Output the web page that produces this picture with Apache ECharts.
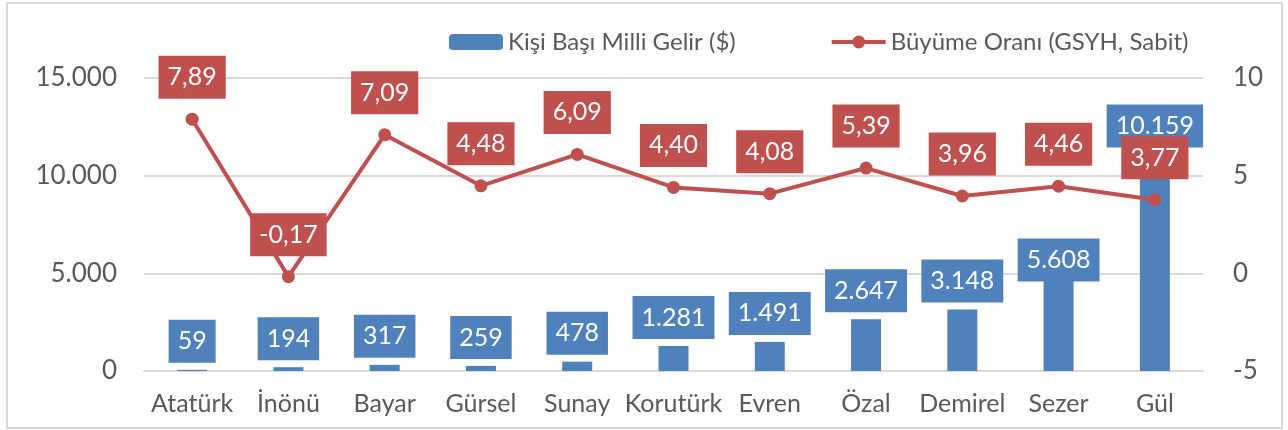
<!DOCTYPE html>
<html>
<head>
<meta charset="utf-8">
<script src="https://cdn.jsdelivr.net/npm/echarts@6/dist/echarts.min.js"></script>
<style>
  html, body { margin: 0; padding: 0; background: #fff; }
  #chart { width: 1288px; height: 430px; }
</style>
</head>
<body>
<div id="chart"></div>
<script>
  // veriler
  var kategoriler = ['Atatürk', 'İnönü', 'Bayar', 'Gürsel', 'Sunay', 'Korutürk', 'Evren', 'Özal', 'Demirel', 'Sezer', 'Gül'];
  var gelir = [59, 194, 317, 259, 478, 1281, 1491, 2647, 3148, 5608, 10159];
  var buyume = [7.89, -0.17, 7.09, 4.48, 6.09, 4.40, 4.08, 5.39, 3.96, 4.46, 3.77];
  var solEksen = [0, 5000, 10000, 15000];
  var sagEksen = [-5, 0, 5, 10];

  var mavi = '#4f81bd';
  var kirmizi = '#c0504d';
  var yazi = '#595959';
  var font = 'Lato';

  function binlik(v) {
    return String(v).replace(/\B(?=(\d{3})+(?!\d))/g, '.');
  }
  function ondalik(v) {
    return v.toFixed(2).replace('.', ',');
  }

  var myChart = echarts.init(document.getElementById('chart'));

  // Excel'de elle kaydırılmış etiketler
  var barData = gelir.map(function (v, i) {
    if (i === 9) return { value: v, label: { offset: [0, 27] } };
    if (i === 10) return { value: v, label: { offset: [0, -18] } };
    return v;
  });

  var option = {
    animation: false,
    textStyle: { fontFamily: font },
    title: {
      text: 'Büyüme',
      left: 49,
      top: 15,
      padding: 0,
      textStyle: {
        color: '#fff',
        fontSize: 26,
        fontWeight: 'normal',
        fontFamily: font,
        backgroundColor: mavi,
        padding: [8, 10],
        lineHeight: 28
      }
    },
    graphic: [{
      type: 'rect',
      silent: true,
      shape: { x: 7, y: 3, width: 1275, height: 425 },
      style: { fill: 'none', stroke: '#d9d9d9', lineWidth: 2 }
    }],
    legend: {
      left: 449,
      top: 30,
      padding: 0,
      itemWidth: 54,
      itemHeight: 16,
      itemGap: 94,
      textStyle: { color: yazi, fontSize: 24, fontFamily: font },
      data: [
        { name: 'Kişi Başı Milli Gelir ($)' },
        { name: 'Büyüme Oranı (GSYH, Sabit)', lineStyle: { width: 4, color: kirmizi } }
      ]
    },
    grid: { left: 144, right: 85, top: 78, bottom: 59 },
    xAxis: {
      type: 'category',
      data: kategoriler,
      axisTick: { show: false },
      axisLine: { lineStyle: { color: '#d9d9d9', width: 2 } },
      axisLabel: { color: yazi, fontSize: 25, margin: 20, interval: 0 }
    },
    yAxis: [{
      type: 'value',
      min: solEksen[0],
      max: solEksen[solEksen.length - 1],
      interval: solEksen[1] - solEksen[0],
      axisLabel: { color: yazi, fontSize: 26, margin: 27, formatter: binlik },
      splitLine: { lineStyle: { color: '#d9d9d9', width: 2 } }
    }, {
      type: 'value',
      min: sagEksen[0],
      max: sagEksen[sagEksen.length - 1],
      interval: sagEksen[1] - sagEksen[0],
      axisLabel: { color: yazi, fontSize: 26, margin: 30 },
      splitLine: { show: false }
    }],
    series: [{
      name: 'Kişi Başı Milli Gelir ($)',
      type: 'bar',
      yAxisIndex: 0,
      barWidth: 30,
      data: barData,
      itemStyle: { color: mavi },
      z: 2,
      label: {
        show: true,
        position: 'top',
        distance: 7,
        color: '#fff',
        fontSize: 25,
        lineHeight: 27,
        backgroundColor: mavi,
        padding: [8, 9],
        formatter: function (p) { return binlik(p.value); }
      }
    }, {
      name: 'Büyüme Oranı (GSYH, Sabit)',
      type: 'line',
      yAxisIndex: 1,
      data: buyume,
      z: 5,
      symbol: 'circle',
      symbolSize: 13,
      itemStyle: { color: kirmizi },
      lineStyle: { color: kirmizi, width: 4 },
      label: {
        show: true,
        position: 'top',
        distance: 14,
        color: '#fff',
        fontSize: 25,
        lineHeight: 27,
        backgroundColor: kirmizi,
        padding: [8, 9],
        formatter: function (p) { return ondalik(p.value); }
      }
    }]
  };
  myChart.setOption(option);
</script>
</body>
</html>
